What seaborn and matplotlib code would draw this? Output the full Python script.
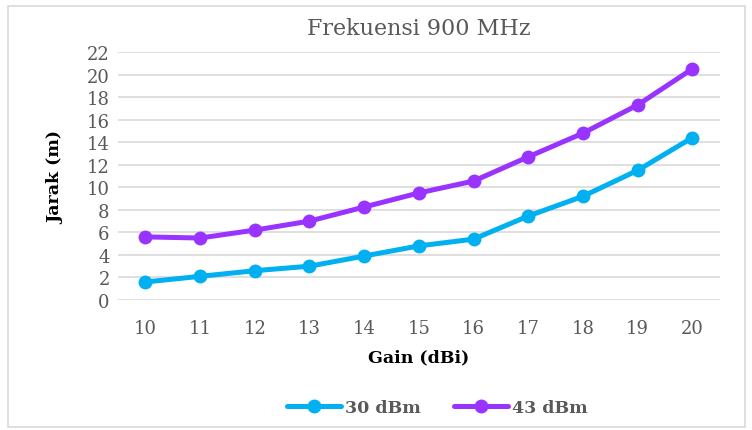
import pandas as pd
import matplotlib.pyplot as plt
import seaborn as sns
from matplotlib.patches import Rectangle

# Data
gain = [10, 11, 12, 13, 14, 15, 16, 17, 18, 19, 20]
jarak_30dbm = [1.6, 2.1, 2.6, 3.0, 3.9, 4.8, 5.4, 7.45, 9.2, 11.5, 14.4]
jarak_43dbm = [5.6, 5.5, 6.2, 7.0, 8.25, 9.5, 10.55, 12.7, 14.8, 17.3, 20.5]
series_names = ['30 dBm', '43 dBm']
colors = ['#00B0F0', '#9933FF']

df = pd.DataFrame({
    'Gain': gain * 2,
    'Jarak': jarak_30dbm + jarak_43dbm,
    'Daya': [series_names[0]] * len(gain) + [series_names[1]] * len(gain),
})

sns.set_style('white')
plt.rcParams['font.family'] = ['DejaVu Serif']

fig = plt.figure(figsize=(7.52, 4.31), dpi=100)
ax = fig.add_axes([0.157, 0.3016, 0.8, 0.5754])

sns.lineplot(
    data=df, x='Gain', y='Jarak', hue='Daya',
    palette=colors, marker='o', markersize=10, markeredgewidth=0,
    linewidth=3.6, ax=ax, legend=False,
)

ax.set_xlim(9.5, 20.5)
ax.set_ylim(0, 22)
ax.set_xticks(gain)
ax.set_yticks(range(0, 23, 2))
ax.grid(axis='y', color='#D9D9D9', linewidth=1.2)
ax.set_axisbelow(True)
for s in ax.spines.values():
    s.set_visible(False)
ax.tick_params(axis='both', length=0, labelsize=13, colors='#595959')
ax.tick_params(axis='x', pad=14)
ax.tick_params(axis='y', pad=6)

ax.set_xlabel('Gain (dBi)', fontsize=12.5, fontweight='bold', color='black', labelpad=8)
ax.set_ylabel('Jarak (m)', fontsize=12.5, fontweight='bold', color='black', labelpad=16)
ax.set_title('Frekuensi 900 MHz', fontsize=16, color='#595959', pad=13)

handles = [plt.Line2D([], [], color=c, linewidth=3.6, marker='o', markersize=10,
                      markeredgewidth=0) for c in colors]
leg = fig.legend(handles, series_names, loc='center', bbox_to_anchor=(0.582, 0.053),
                 ncol=2, frameon=False, handlelength=3.1, handletextpad=0.25,
                 columnspacing=1.9, prop={'weight': 'bold', 'size': 12.5})
for t in leg.get_texts():
    t.set_color('#595959')

fig.patches.append(Rectangle((8 / 752, 3 / 431), 737 / 752, 421 / 431,
                             transform=fig.transFigure, fill=False,
                             edgecolor='#D9D9D9', linewidth=1.2))

fig.savefig('out.png', dpi=100)
